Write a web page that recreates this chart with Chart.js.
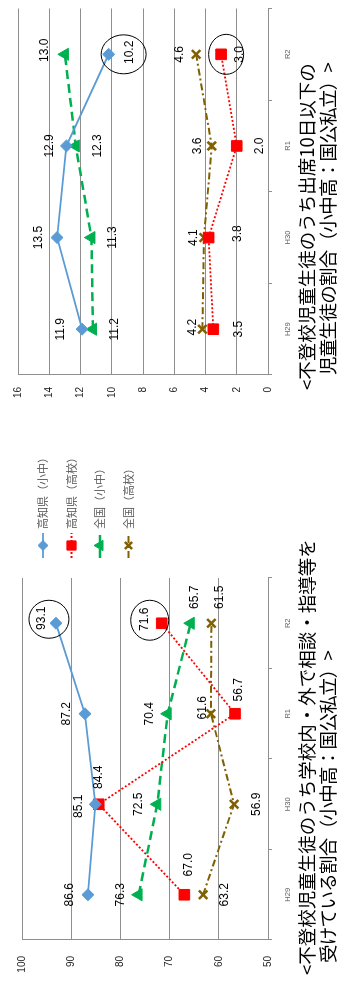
<!DOCTYPE html>
<html>
<head>
<meta charset="utf-8">
<script src="https://cdn.jsdelivr.net/npm/chart.js@4.4.1/dist/chart.umd.min.js"></script>
<style>
html, body { margin: 0; padding: 0; background: #fff; overflow: hidden; }
#wrap { position: absolute; left: 0; top: 0; width: 981px; height: 338px;
        transform-origin: 0 0; transform: translateY(981px) rotate(-90deg); }
#wrap canvas { position: absolute; top: 0; }
.ttl { position: absolute; font-family: "Noto Sans CJK JP"; font-size: 18.5px; line-height: 21px;
       white-space: nowrap; color: #000; }
.ttl2 { letter-spacing: -0.7px; }
</style>
</head>
<body>
<div id="wrap">
	<canvas id="chartConsult" width="575" height="338" style="left:0"></canvas>
	<canvas id="chartAttend" width="406" height="338" style="left:575px"></canvas>
	<div class="ttl" style="left:6px;top:296px">&lt;不登校児童生徒のうち学校内・外で相談・指導等を</div>
	<div class="ttl ttl2" style="left:18px;top:317px">受けている割合（小中高：国公私立）&gt;</div>
	<div class="ttl" style="left:591px;top:296px">&lt;不登校児童生徒のうち出席10日以下の</div>
	<div class="ttl ttl2" style="left:606px;top:317px">児童生徒の割合（小中高：国公私立）&gt;</div>
</div>
<script>
// データ
var categories = ['H29', 'H30', 'R1', 'R2'];
var seriesNames = ['高知県（小中）', '高知県（高校）', '全国（小中）', '全国（高校）'];

// 相談・指導等を受けている割合 (%)
var consultKochiElem = [86.6, 85.1, 87.2, 93.1];
var consultKochiHigh = [67.0, 84.4, 56.7, 71.6];
var consultNationElem = [76.3, 72.5, 70.4, 65.7];
var consultNationHigh = [63.2, 56.9, 61.6, 61.5];
var consultTicks = [50, 60, 70, 80, 90, 100];

// 出席10日以下の割合 (%)
var attendKochiElem = [11.9, 13.5, 12.9, 10.2];
var attendKochiHigh = [3.5, 3.8, 2.0, 3.0];
var attendNationElem = [11.2, 11.3, 12.3, 13.0];
var attendNationHigh = [4.2, 4.1, 3.6, 4.6];
var attendTicks = [0, 2, 4, 6, 8, 10, 12, 14, 16];

var gridColor = '#8f8f8f';

var styles = [
	{ color: '#5B9BD5', width: 1.8, dash: [], point: 'rectRot', radius: 6, pbw: 1 },
	{ color: '#FF0000', width: 1.8, dash: [2, 2], point: 'rect', radius: 7.5, pbw: 1 },
	{ color: '#00B050', width: 2.5, dash: [9, 5], point: 'triangle', radius: 7, pbw: 1 },
	{ color: '#806000', width: 2, dash: [7, 3, 2, 3], point: 'crossRot', radius: 6, pbw: 2.5 }
];

function makeDatasets(list) {
	return list.map(function(values, i) {
		var s = styles[i];
		return {
			label: seriesNames[i],
			data: values,
			borderColor: s.color,
			backgroundColor: s.color,
			borderWidth: s.width,
			borderDash: s.dash,
			pointStyle: s.point,
			pointRadius: s.radius,
			pointHoverRadius: s.radius,
			pointBorderWidth: s.pbw,
			pointBorderColor: s.color,
			pointBackgroundColor: s.color,
			tension: 0,
			fill: false
		};
	});
}

// ラベル位置 [dx, dy] (点からのずれ)
var consultLabelPos = [
	[[0, -18], [-2, -17], [0, -18], [5, -14]],
	[[30, 4], [27, 0], [24, 4], [4, -17]],
	[[0, -18], [0, -19], [0, -18], [26, 4]],
	[[0, 22], [0, 23], [6, -8], [26, 8]]
];
var attendLabelPos = [
	[[0, -21], [0, -18], [0, -17], [2, 21]],
	[[0, 25], [4, 29], [0, 23], [0, 19]],
	[[0, 22], [0, 21], [0, 22], [4, -20]],
	[[2, -10], [0, -10], [0, -14], [0, -16]]
];

// 丸で囲む [系列, 項目, dx, dy, rx, ry]
var consultRings = [[0, 3, 4, -7, 19, 20], [1, 3, 3, -12, 20, 19]];
var attendRings = [[0, 3, 0, 15, 19.5, 22.5], [1, 3, 0, 5, 20, 17.5]];

function labelPlugin(pos, rings) {
	return {
		id: 'valueLabels',
		afterDatasetsDraw: function(chart) {
			var ctx = chart.ctx;
			ctx.save();
			ctx.font = '12px "Liberation Sans"';
			ctx.fillStyle = '#000';
			ctx.textAlign = 'center';
			ctx.textBaseline = 'middle';
			chart.data.datasets.forEach(function(ds, i) {
				chart.getDatasetMeta(i).data.forEach(function(pt, j) {
					var o = pos[i][j];
					ctx.fillText(ds.data[j].toFixed(1), pt.x + o[0], pt.y + o[1]);
				});
			});
			ctx.strokeStyle = '#000';
			ctx.lineWidth = 1;
			rings.forEach(function(r) {
				var pt = chart.getDatasetMeta(r[0]).data[r[1]];
				ctx.beginPath();
				ctx.ellipse(pt.x + r[2], pt.y + r[3], r[4], r[5], 0, 0, Math.PI * 2);
				ctx.stroke();
			});
			ctx.restore();
		}
	};
}

var legendPlugin = {
	id: 'sideLegend',
	afterDraw: function(chart) {
		var ctx = chart.ctx;
		ctx.save();
		chart.data.datasets.forEach(function(ds, i) {
			var s = styles[i];
			var y = 43 + i * 28.5;
			ctx.strokeStyle = s.color;
			ctx.lineWidth = s.width;
			ctx.setLineDash(s.dash.length ? s.dash : []);
			ctx.beginPath();
			ctx.moveTo(423, y);
			ctx.lineTo(448, y);
			ctx.stroke();
			ctx.setLineDash([]);
			ctx.fillStyle = s.color;
			ctx.strokeStyle = s.color;
			ctx.lineWidth = s.pbw;
			Chart.helpers.drawPoint(ctx, { pointStyle: s.point, radius: s.radius - 1, rotation: 0, borderWidth: s.pbw }, 435.5, y);
			ctx.fillStyle = '#595959';
			ctx.font = '11px "Noto Sans CJK JP"';
			ctx.textAlign = 'left';
			ctx.textBaseline = 'middle';
			ctx.fillText(ds.label, 452, y);
		});
		ctx.restore();
	}
};

function makeOptions(ticks, yWidth, yPad, pad) {
	return {
		responsive: false,
		animation: false,
		devicePixelRatio: 1,
		layout: { padding: pad },
		plugins: { legend: { display: false }, tooltip: { enabled: false } },
		scales: {
			x: {
				offset: true,
				grid: { offset: true, drawOnChartArea: false, drawTicks: true, tickLength: 4, color: gridColor },
				border: { color: gridColor },
				ticks: { color: '#595959', padding: 11, font: { family: 'Liberation Sans', size: 7.5 } },
				afterFit: function(scale) { scale.height = 70; }
			},
			y: {
				min: ticks[0],
				max: ticks[ticks.length - 1],
				afterBuildTicks: function(scale) {
					scale.ticks = ticks.map(function(v) { return { value: v }; });
				},
				grid: { drawTicks: false, color: gridColor, lineWidth: 1 },
				border: { color: gridColor },
				ticks: { color: '#222', padding: yPad, font: { family: 'Liberation Sans', size: 10 } },
				afterFit: function(scale) { scale.width = yWidth; }
			}
		}
	};
}

var consultChart = new Chart(document.getElementById('chartConsult'), {
	type: 'line',
	data: {
		labels: categories,
		datasets: makeDatasets([consultKochiElem, consultKochiHigh, consultNationElem, consultNationHigh])
	},
	options: makeOptions(consultTicks, 41, 16, { left: 0, right: 172, top: 20, bottom: 0 }),
	plugins: [labelPlugin(consultLabelPos, consultRings), legendPlugin]
});

var attendChart = new Chart(document.getElementById('chartAttend'), {
	type: 'line',
	data: {
		labels: categories,
		datasets: makeDatasets([attendKochiElem, attendKochiHigh, attendNationElem, attendNationHigh])
	},
	options: makeOptions(attendTicks, 31, 12, { left: 0, right: 1, top: 10, bottom: 0 }),
	plugins: [labelPlugin(attendLabelPos, attendRings)]
});
</script>
</body>
</html>
